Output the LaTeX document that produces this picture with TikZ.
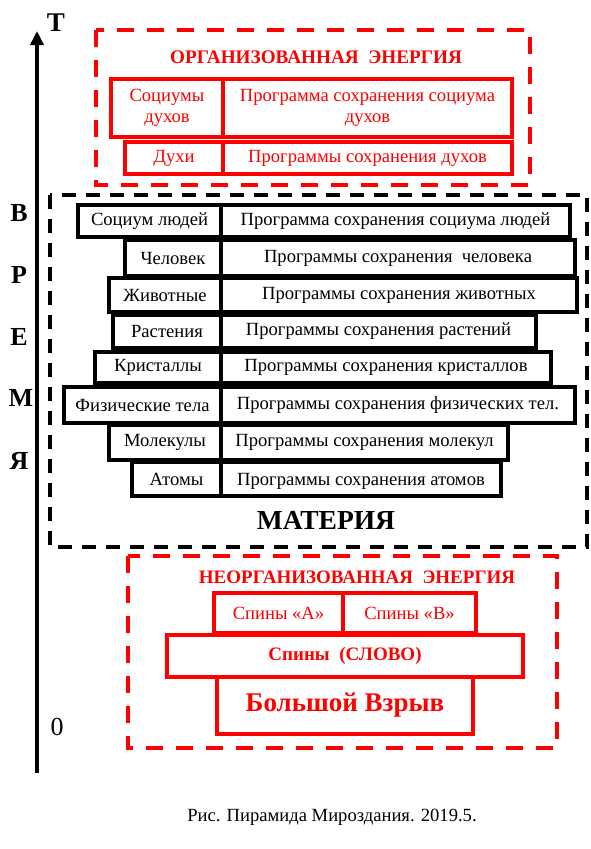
\documentclass[tikz,border=0pt]{standalone}
\usepackage{fontspec}
\setmainfont{Liberation Serif}
\usepackage{xcolor}
\usepackage{tikz}
\usetikzlibrary{arrows.meta}
\newcommand{\pt}[1]{\fontsize{#1}{#1}\selectfont}

\tikzset{
  txt/.style={font=\fontsize{18.6}{21.5}\selectfont},
  blkcell/.style={draw, line width=3.5pt, inner sep=0pt, txt},
  redcell/.style={draw=red, text=red, line width=3.5pt, inner sep=0pt, txt, align=center},
  blkzone/.style={draw, line width=4pt, dash pattern=on 14pt off 10pt},
  redzone/.style={draw=red, line width=4pt, dash pattern=on 17pt off 13pt},
  vremya/.style={font=\pt{26}\bfseries}
}

\begin{document}
\begin{tikzpicture}[x=1pt,y=-1pt]
  \useasboundingbox (0,0) rectangle (590,849);

  % time axis
  \coordinate (t0) at (37,773);
  \coordinate (tT) at (37,31);
  \draw[-{Triangle[width=13pt,length=14pt]},line width=3.5pt] (t0) -- (tT);
  \node[font=\pt{27}\bfseries] (labT) at (56,23) {T};
  \node[font=\pt{26}] (lab0) at (57,727) {0};
  \node[vremya] (v1) at (19,213) {В};
  \node[vremya] (v2) at (19,275) {Р};
  \node[vremya] (v3) at (19,337) {Е};
  \node[vremya] (v4) at (21,398) {М};
  \node[vremya] (v5) at (19,461) {Я};

  % organised energy
  \draw[redzone] (96,30) rectangle (530,185);
  \node[font=\pt{19.2}\bfseries,text=red] (orgE) at (316,57) {ОРГАНИЗОВАННАЯ~ ЭНЕРГИЯ};
  \node[redcell,minimum width=112pt,minimum height=58pt] (socD) at (167,108) {Социумы\\духов};
  \node[redcell,minimum width=289pt,minimum height=58pt] (socDp) at (367.5,108) {Программа сохранения социума\\духов};
  \node[redcell,minimum width=98pt,minimum height=32pt] (duh) at (174,158) {Духи};
  \node[redcell,minimum width=289pt,minimum height=32pt] (duhp) at (367.5,158) {Программы сохранения духов};

  % matter
  \draw[blkzone] (50,195) rectangle (587,547);
  \node[blkcell,minimum width=143pt,minimum height=32pt] (r1) at (149.5,221) {Социум людей};
  \node[blkcell,minimum width=349pt,minimum height=32pt] (r1p) at (395.5,221) {Программа сохранения социума людей};
  \node[blkcell,minimum width=96pt,minimum height=36pt] (r2) at (173,258) {Человек};
  \node[blkcell,minimum width=354pt,minimum height=36pt] (r2p) at (398,258) {Программы сохранения~ человека};
  \node[blkcell,minimum width=112pt,minimum height=34pt] (r3) at (165,295) {Животные};
  \node[blkcell,minimum width=356pt,minimum height=34pt] (r3p) at (399,295) {Программы сохранения животных};
  \node[blkcell,minimum width=108pt,minimum height=33pt] (r4) at (167,331.5) {Растения};
  \node[blkcell,minimum width=315pt,minimum height=33pt] (r4p) at (378.5,331.5) {Программы сохранения растений};
  \node[blkcell,minimum width=126pt,minimum height=31pt] (r5) at (158,367.5) {Кристаллы};
  \node[blkcell,minimum width=330pt,minimum height=31pt] (r5p) at (386,367.5) {Программы сохранения кристаллов};
  \node[blkcell,minimum width=157pt,minimum height=36pt] (r6) at (142.5,405) {Физические тела};
  \node[blkcell,minimum width=354pt,minimum height=36pt] (r6p) at (398,405) {Программы сохранения физических тел.};
  \node[blkcell,minimum width=112pt,minimum height=35pt] (r7) at (165,442.5) {Молекулы};
  \node[blkcell,minimum width=287pt,minimum height=35pt] (r7p) at (364.5,442.5) {Программы сохранения молекул};
  \node[blkcell,minimum width=89pt,minimum height=34pt] (r8) at (176.5,479) {Атомы};
  \node[blkcell,minimum width=280pt,minimum height=34pt,text depth=-6pt] (r8p) at (361,479) {Программы сохранения атомов};
  \node[font=\pt{27.5}\bfseries] (mat) at (326,520) {МАТЕРИЯ};

  % unorganised energy
  \draw[redzone] (128,556) rectangle (557,748);
  \node[font=\pt{19}\bfseries,text=red] (neorgE) at (357,577) {НЕОРГАНИЗОВАННАЯ~ ЭНЕРГИЯ};
  \node[redcell,minimum width=129pt,minimum height=40pt] (spA) at (278.5,613) {Спины «А»};
  \node[redcell,minimum width=133pt,minimum height=40pt] (spB) at (409.5,613) {Спины «В»};
  \node[redcell,minimum width=356pt,minimum height=42pt,font=\pt{19}\bfseries] (slovo) at (345,656) {Спины~ (СЛОВО)};
  \node[redcell,minimum width=256pt,minimum height=57pt,font=\pt{27}\bfseries] (bang) at (345,705.5) {Большой Взрыв};

  \node[txt] (caption) at (332,817) {Рис. Пирамида Мироздания. 2019.5.};
\end{tikzpicture}
\end{document}
